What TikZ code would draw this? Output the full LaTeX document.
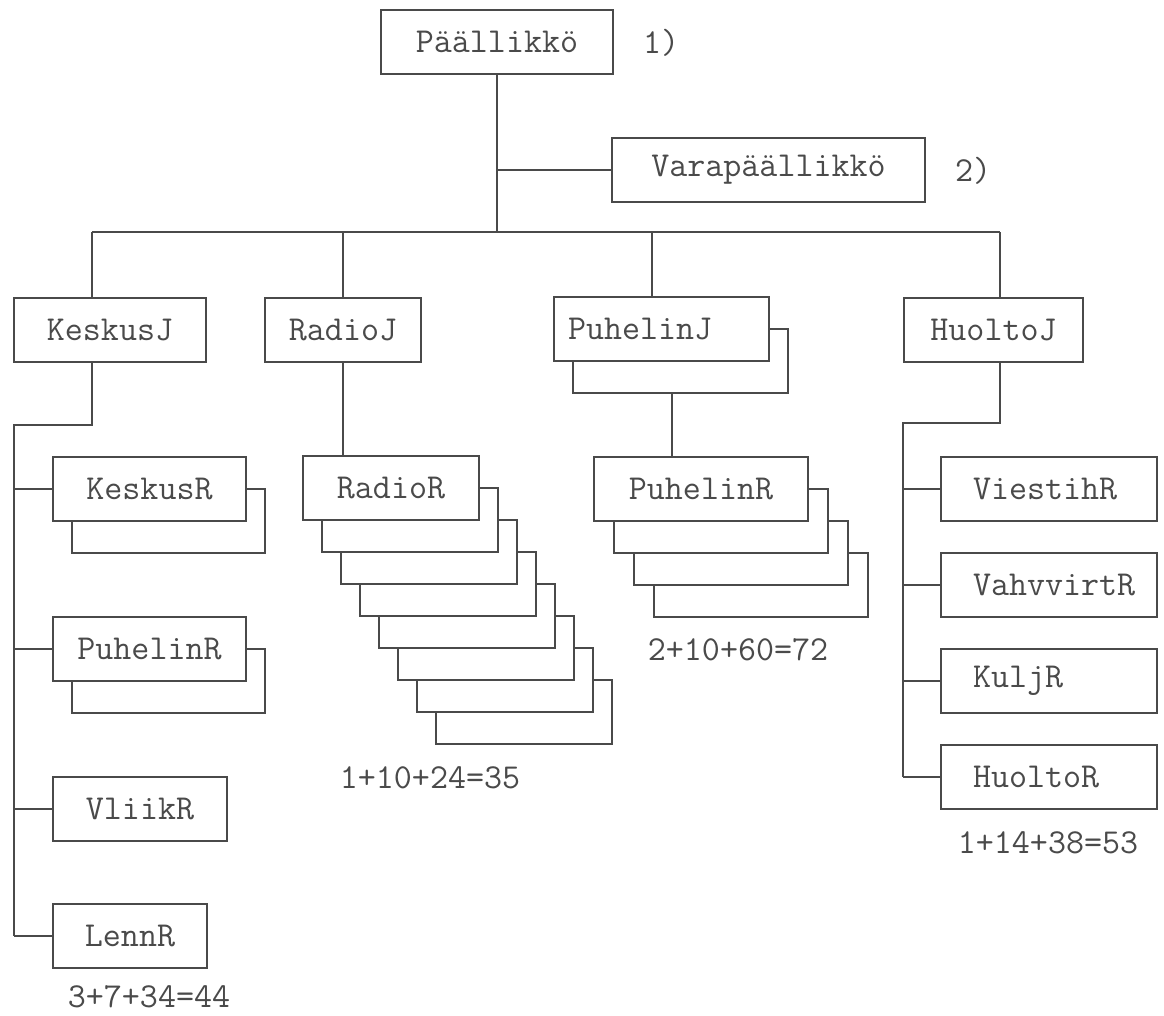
\documentclass[tikz,border=0pt]{standalone}
\usepackage{fontspec}
\usepackage{tikz}
\usetikzlibrary{calc,positioning}
\definecolor{ink}{HTML}{4A4A4A}
\tikzstyle{box} = [draw=ink, text=ink, rectangle, fill=white, line width=1.6pt, minimum height=64pt, inner sep=0pt, font=\ttfamily\fontsize{35}{40}\selectfont]
\tikzstyle{line} = [draw=ink, line width=1.6pt]
\tikzstyle{sum} = [text=ink, inner sep=0pt, font=\ttfamily\fontsize{35}{40}\selectfont]

\begin{document}
\begin{tikzpicture}[x=1pt,y=-1pt]
  \useasboundingbox (0,0) rectangle (1164,1015);

  % Command
  \node[box, minimum width=232pt] (chief) at (497,42) {Päällikkö};
  \node[sum, anchor=west] (chiefnote) at (643,43) {1)};
  \node[box, minimum width=313pt] (vice) at (768.5,170) {Varapäällikkö};
  \node[sum, anchor=west] (vicenote) at (955,171) {2)};

  % Bus points
  \coordinate (busK) at (92,232);
  \coordinate (busR) at (343,232);
  \coordinate (busP) at (652,232);
  \coordinate (busH) at (1000,232);

  % Platoons
  \node[box, minimum width=192pt] (keskusJ) at (110,330) {KeskusJ};
  \node[box, minimum width=156pt] (radioJ) at (343,330) {RadioJ};
  \coordinate (puhJc) at (661.5,329);
  \node[box, minimum width=215pt] (puhJ-1) at ($(puhJc)+(19,32)$) {};
  \node[box, inner xsep=14pt, text width=187pt, align=left] (puhJ) at (puhJc) {PuhelinJ};
  \node[box, minimum width=179pt] (huoltoJ) at (993.5,330) {HuoltoJ};

  % KeskusJ squads
  \node[box, minimum width=193pt] (keskusR-1) at (168.5,521) {};
  \node[box, minimum width=193pt] (keskusR) at (149.5,489) {KeskusR};
  \node[box, minimum width=193pt] (puhR2-1) at (168.5,681) {};
  \node[box, minimum width=193pt] (puhR2) at (149.5,649) {PuhelinR};
  \node[box, minimum width=174pt] (vliikR) at (140,809) {VliikR};
  \node[box, minimum width=154pt] (lennR) at (130,936) {LennR};

  % RadioJ squads
  \coordinate (radioRc) at (391,488);
  \foreach \k in {7,...,1}
    \node[box, minimum width=176pt] (radioR-\k) at ($(radioRc)+(19*\k,32*\k)$) {};
  \node[box, minimum width=176pt] (radioR) at (radioRc) {RadioR};

  % PuhelinJ squads
  \coordinate (puhRc) at (701,489);
  \foreach \k in {3,...,1}
    \node[box, minimum width=214pt] (puhR-\k) at ($(puhRc)+(20*\k,32*\k)$) {};
  \node[box, minimum width=214pt] (puhR) at (puhRc) {PuhelinR};

  % HuoltoJ squads
  \node[box, inner xsep=32pt, text width=152pt, align=left] (viestihR) at (1049,489) {ViestihR};
  \node[box, inner xsep=32pt, text width=152pt, align=left] (vahvvirtR) at (1049,585) {VahvvirtR};
  \node[box, inner xsep=32pt, text width=152pt, align=left] (kuljR) at (1049,681) {KuljR};
  \node[box, inner xsep=32pt, text width=152pt, align=left] (huoltoR) at (1049,777) {HuoltoR};

  % Connections
  \draw[line] (chief.south) -- (chief.south |- busK);
  \draw[line] (chief.south |- vice.west) -- (vice.west);
  \draw[line] (busK) -- (busH);
  \foreach \b/\n in {busK/keskusJ, busR/radioJ, busP/puhJ, busH/huoltoJ}
    \draw[line] (\b) -- (\b |- \n.north);

  \coordinate (kTrunk) at (14,425);
  \draw[line] (busK |- keskusJ.south) -- (busK |- kTrunk) -- (kTrunk) -- (kTrunk |- lennR.west);
  \foreach \n in {keskusR, puhR2, vliikR, lennR}
    \draw[line] (kTrunk |- \n.west) -- (\n.west);

  \draw[line] (radioJ.south) -- (radioJ.south |- radioR.north);

  \coordinate (pDrop) at (672,0);
  \draw[line] (pDrop |- puhJ-1.south) -- (pDrop |- puhR.north);

  \coordinate (hTrunk) at (903,423);
  \draw[line] (busH |- huoltoJ.south) -- (busH |- hTrunk) -- (hTrunk) -- (hTrunk |- huoltoR.west);
  \foreach \n in {viestihR, vahvvirtR, kuljR, huoltoR}
    \draw[line] (hTrunk |- \n.west) -- (\n.west);

  % Strengths
  \node[sum] (keskusSum) at (149,997) {3+7+34=44};
  \node[sum] (radioSum) at (430,778) {1+10+24=35};
  \node[sum] (puhSum) at (738,650) {2+10+60=72};
  \node[sum] (huoltoSum) at (1048,843) {1+14+38=53};
\end{tikzpicture}
\end{document}
